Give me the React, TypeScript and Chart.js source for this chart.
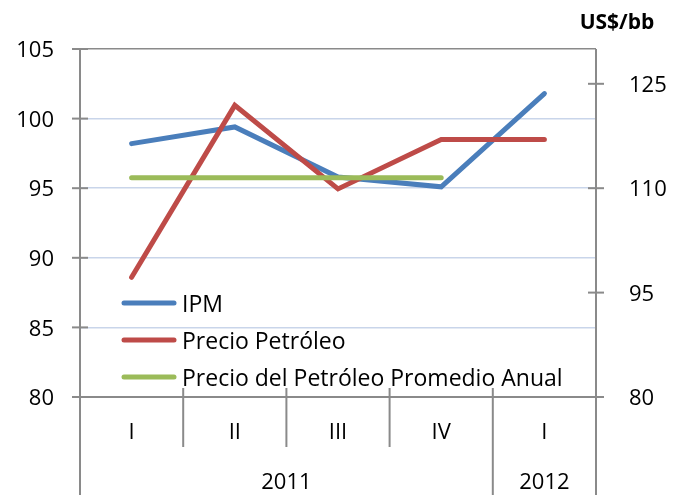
import React, { useEffect, useRef } from "react";
import { Chart, registerables } from "chart.js";

Chart.register(...registerables);

const categories = ["I", "II", "III", "IV", "I"];
const yearLabels = ["2011", "2012"];
const yearSpans = [4, 1];
const ipm = [98.2, 99.4, 95.8, 95.1, 101.8];
const precioPetroleo = [97.2, 121.9, 109.9, 117.0, 117.0];
const promedioAnual = [111.5, 111.5, 111.5, 111.5, null];
const leftTicks = [80, 85, 90, 95, 100, 105];
const rightTicks = [80, 95, 110, 125];
const rightUnit = "US$/bb";

const W = 678;
const H = 495;
const AXIS = "#8A8A8A";
const GRID = "#C9D5EA";
const FONT = "'Open Sans', Lato, sans-serif";

const decor = {
  id: "decor",
  afterDraw(chart: any) {
    const { ctx, chartArea } = chart;
    const { left, right, top, bottom } = chartArea;
    const x = chart.scales.x;
    const y = chart.scales.y;
    const y1 = chart.scales.y1;
    ctx.save();
    ctx.strokeStyle = AXIS;
    ctx.lineWidth = 2;
    const line = (x0: number, y0: number, x1: number, y2: number) => {
      ctx.beginPath();
      ctx.moveTo(x0, y0);
      ctx.lineTo(x1, y2);
      ctx.stroke();
    };
    line(left, top, left, H);
    line(right, top, right, H);
    line(left - 8, bottom, right + 8, bottom);
    y.ticks.forEach((t: any) => {
      const py = y.getPixelForValue(t.value);
      line(left - 8, py, left + 8, py);
    });
    y1.ticks.forEach((t: any) => {
      const py = y1.getPixelForValue(t.value);
      line(right - 8, py, right + 8, py);
    });
    const yearStarts: number[] = [];
    let acc = 0;
    yearSpans.forEach((s) => {
      acc += s;
      yearStarts.push(acc);
    });
    for (let i = 1; i < categories.length; i++) {
      const bx = (x.getPixelForValue(i - 1) + x.getPixelForValue(i)) / 2;
      const isYear = yearStarts.includes(i);
      line(bx, bottom - 9, bx, isYear ? H : bottom + 50);
    }
    ctx.fillStyle = "#000";
    ctx.font = `22px ${FONT}`;
    ctx.textAlign = "center";
    ctx.textBaseline = "middle";
    const half = (x.getPixelForValue(1) - x.getPixelForValue(0)) / 2;
    let start = 0;
    yearLabels.forEach((lab, k) => {
      const end = start + yearSpans[k] - 1;
      const x0 = x.getPixelForValue(start) - half;
      const x1 = x.getPixelForValue(end) + half;
      ctx.fillText(lab, (x0 + x1) / 2, 483);
      start += yearSpans[k];
    });
    ctx.font = `bold 21px ${FONT}`;
    ctx.fillText(rightUnit, 617, 23);
    ctx.textAlign = "left";
    ctx.font = `23px ${FONT}`;
    chart.data.datasets.forEach((ds: any, i: number) => {
      const ly = 303 + i * 37;
      ctx.strokeStyle = ds.borderColor;
      ctx.lineWidth = 5;
      ctx.lineCap = "round";
      line(124, ly, 174, ly);
      ctx.fillStyle = "#000";
      ctx.fillText(ds.label, 182, ly + 2);
    });
    ctx.restore();
  },
};

export default function App() {
  const ref = useRef<HTMLCanvasElement | null>(null);
  useEffect(() => {
    let chart: any = null;
    let cancelled = false;
    const make = () => {
      if (cancelled || !ref.current) return;
      chart = new Chart(ref.current, {
        type: "line",
        data: {
          labels: categories,
          datasets: [
            {
              label: "IPM",
              data: ipm,
              yAxisID: "y",
              borderColor: "#4A7EBB",
              borderWidth: 5,
              pointRadius: 0,
              borderCapStyle: "round",
              borderJoinStyle: "miter",
              tension: 0,
              order: 3,
            },
            {
              label: "Precio Petróleo",
              data: precioPetroleo,
              yAxisID: "y1",
              borderColor: "#BE4B48",
              borderWidth: 5,
              pointRadius: 0,
              borderCapStyle: "round",
              borderJoinStyle: "miter",
              tension: 0,
              order: 2,
            },
            {
              label: "Precio del Petróleo Promedio Anual",
              data: promedioAnual,
              yAxisID: "y1",
              borderColor: "#9BBB59",
              borderWidth: 5,
              pointRadius: 0,
              borderCapStyle: "round",
              tension: 0,
              spanGaps: false,
              order: 1,
            },
          ],
        },
        options: {
          animation: false,
          responsive: false,
          layout: { padding: { top: 49, left: 0, right: 0, bottom: 0 } },
          plugins: {
            legend: { display: false },
            title: { display: false },
            tooltip: { enabled: false },
          },
          scales: {
            x: {
              type: "category",
              offset: true,
              grid: { display: false },
              border: { display: false },
              ticks: {
                color: "#000",
                font: { family: FONT, size: 22 },
                padding: 15,
                maxRotation: 0,
                autoSkip: false,
              },
              afterFit: (s: any) => {
                s.height = 98;
              },
            },
            y: {
              position: "left",
              min: 80,
              max: 105,
              afterBuildTicks: (s: any) => {
                s.ticks = leftTicks.map((v) => ({ value: v }));
              },
              grid: {
                drawTicks: false,
                lineWidth: 1.5,
                color: (c: any) =>
                  c.tick && (c.tick.value === 105 || c.tick.value === 80) ? AXIS : GRID,
              },
              border: { display: false },
              ticks: {
                color: "#000",
                font: { family: FONT, size: 22 },
                padding: 26,
                labelOffset: 2,
              },
              afterFit: (s: any) => {
                s.width = 80;
              },
            },
            y1: {
              position: "right",
              min: 80,
              max: 130,
              afterBuildTicks: (s: any) => {
                s.ticks = rightTicks.map((v) => ({ value: v }));
              },
              grid: { display: false, drawOnChartArea: false },
              border: { display: false },
              ticks: {
                color: "#000",
                font: { family: FONT, size: 22 },
                padding: 25,
                labelOffset: 2,
              },
              afterFit: (s: any) => {
                s.width = 82;
              },
            },
          },
        },
        plugins: [decor],
      } as any);
    };
    const fonts: any = (document as any).fonts;
    if (fonts && fonts.load) {
      Promise.all([fonts.load(`22px 'Open Sans'`), fonts.load(`bold 21px 'Open Sans'`)])
        .catch(() => {})
        .then(make);
    } else {
      make();
    }
    return () => {
      cancelled = true;
      if (chart) chart.destroy();
    };
  }, []);
  return (
    <div style={{ position: "absolute", left: 0, top: 0, width: W, height: H, background: "#fff" }}>
      <canvas ref={ref} width={W} height={H} />
    </div>
  );
}
